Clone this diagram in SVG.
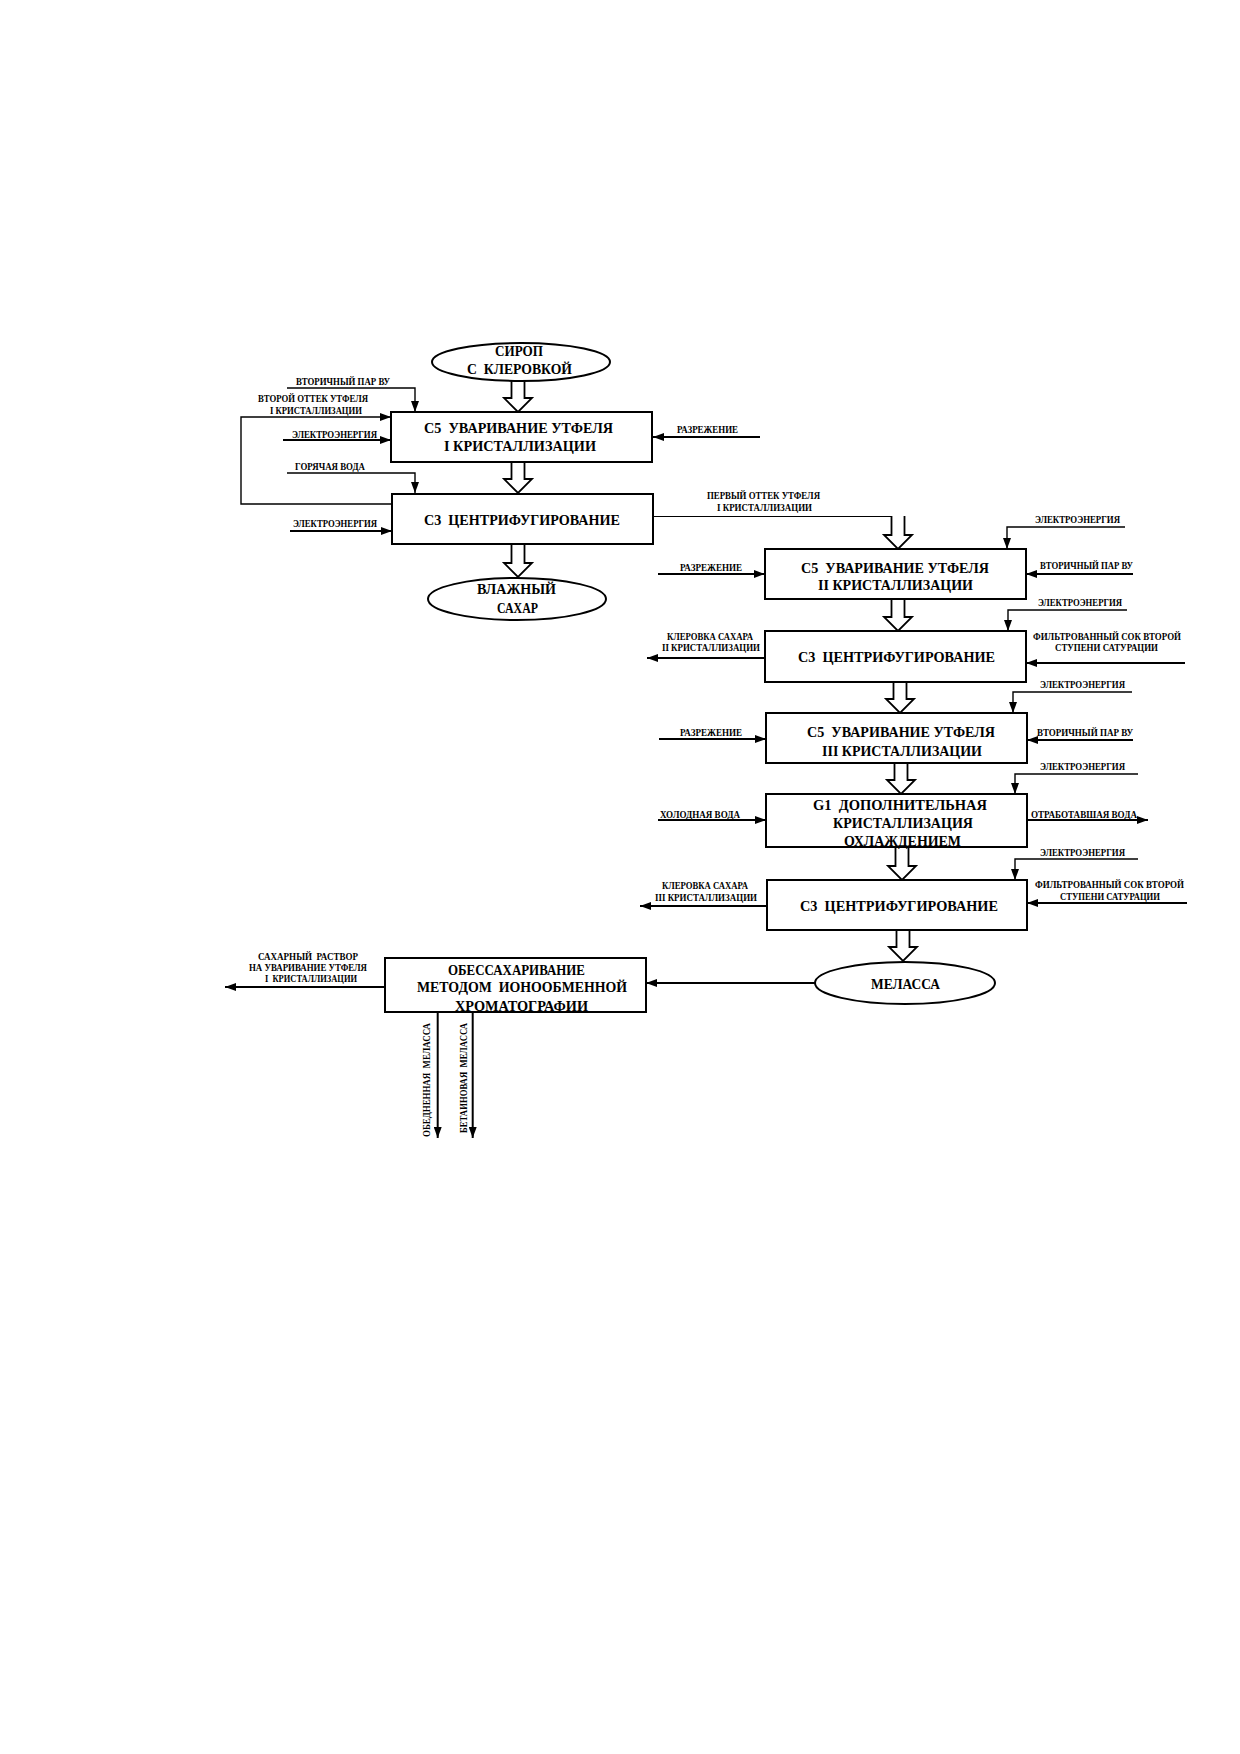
<svg xmlns="http://www.w3.org/2000/svg" width="1240" height="1754" viewBox="0 0 1240 1754">
<defs>
<marker id="ah" markerUnits="userSpaceOnUse" markerWidth="11" markerHeight="8" refX="11" refY="4" orient="auto">
<path d="M0,0 L11,4 L0,8 Z" fill="#000"/>
</marker>
<style>
.box{fill:#fff;stroke:#000;stroke-width:2}
.t{font-family:"Liberation Serif",serif;font-weight:bold;font-size:15px;text-anchor:middle;fill:#000;white-space:pre}
.s{font-family:"Liberation Serif",serif;font-weight:bold;font-size:10px;text-anchor:middle;fill:#000;white-space:pre}
.th{stroke:#000;stroke-width:2;fill:none;marker-end:url(#ah)}
.md{stroke:#000;stroke-width:1.4;fill:none;marker-end:url(#ah)}
.tn{stroke:#000;stroke-width:1.2;fill:none}
.hol{fill:#fff;stroke:#000;stroke-width:1.8;stroke-linejoin:miter}
</style>
</defs>
<rect width="1240" height="1754" fill="#fff"/>

<g id="connectors">
<path class="md" d="M287,388 H415 V412"/>
<path class="md" d="M392,504 H241 V417 H391"/>
<path class="th" d="M283,440 H391"/>
<path class="md" d="M287,473 H415 V493"/>
<path class="th" d="M290,531 H392"/>
<path class="th" d="M760,437 H653"/>
<path class="tn" d="M653,516.5 H892"/>
<path class="md" d="M1125,527 H1007 V549"/>
<path class="th" d="M658,574 H765"/>
<path class="th" d="M1133,574 H1026"/>
<path class="md" d="M1127,610 H1008 V631"/>
<path class="th" d="M765,658 H647"/>
<path class="th" d="M1185,663 H1026"/>
<path class="md" d="M1132,692 H1013 V713"/>
<path class="th" d="M659,739 H766"/>
<path class="th" d="M1133,740 H1027"/>
<path class="md" d="M1138,774 H1015 V794"/>
<path class="th" d="M658,820 H766"/>
<path class="th" d="M1027,820 H1148"/>
<path class="md" d="M1138,859 H1015 V880"/>
<path class="th" d="M768,906 H640"/>
<path class="th" d="M1187,903 H1027"/>
<path class="th" d="M815,983 H646"/>
<path class="th" d="M385,987 H225"/>
<path class="th" d="M437.7,1012 V1138"/>
<path class="th" d="M472.7,1012 V1138"/>
<path class="hol" d="M511.5,381 V398 H504 L518,412 L532,398 H524.5 V381"/>
<path class="hol" d="M511.5,462 V479 H504 L518,493 L532,479 H524.5 V462"/>
<path class="hol" d="M511.5,544 V563 H504 L518,577 L532,563 H524.5 V544"/>
<path class="hol" d="M891.5,516 V535 H884 L898,549 L912,535 H904.5 V516"/>
<path class="hol" d="M891.5,599 V617 H884 L898,631 L912,617 H904.5 V599"/>
<path class="hol" d="M893.5,682 V699 H886 L900,713 L914,699 H906.5 V682"/>
<path class="hol" d="M894.5,763 V780 H887 L901,794 L915,780 H907.5 V763"/>
<path class="hol" d="M895.5,847 V866 H888 L902,880 L916,866 H908.5 V847"/>
<path class="hol" d="M896.5,930 V947 H889 L903,961 L917,947 H909.5 V930"/>
</g>

<g id="labels">
<text class="s" x="343" y="385" textLength="94" lengthAdjust="spacingAndGlyphs">ВТОРИЧНЫЙ ПАР ВУ</text>
<text class="s" x="313" y="401.5" textLength="110" lengthAdjust="spacingAndGlyphs">ВТОРОЙ ОТТЕК УТФЕЛЯ</text>
<text class="s" x="316" y="413.5" textLength="92" lengthAdjust="spacingAndGlyphs">I КРИСТАЛЛИЗАЦИИ</text>
<text class="s" x="334.5" y="437.5" textLength="85" lengthAdjust="spacingAndGlyphs">ЭЛЕКТРОЭНЕРГИЯ</text>
<text class="s" x="330" y="470" textLength="70" lengthAdjust="spacingAndGlyphs">ГОРЯЧАЯ ВОДА</text>
<text class="s" x="335" y="526.5" textLength="84" lengthAdjust="spacingAndGlyphs">ЭЛЕКТРОЭНЕРГИЯ</text>
<text class="s" x="707.5" y="432.5" textLength="61" lengthAdjust="spacingAndGlyphs">РАЗРЕЖЕНИЕ</text>
<text class="s" x="763.5" y="498.5" textLength="113" lengthAdjust="spacingAndGlyphs">ПЕРВЫЙ ОТТЕК УТФЕЛЯ</text>
<text class="s" x="764.5" y="510.5" textLength="95" lengthAdjust="spacingAndGlyphs">I КРИСТАЛЛИЗАЦИИ</text>
<text class="s" x="1077.5" y="522.5" textLength="85" lengthAdjust="spacingAndGlyphs">ЭЛЕКТРОЭНЕРГИЯ</text>
<text class="s" x="711" y="570.5" textLength="62" lengthAdjust="spacingAndGlyphs">РАЗРЕЖЕНИЕ</text>
<text class="s" x="1086.5" y="568.5" textLength="93" lengthAdjust="spacingAndGlyphs">ВТОРИЧНЫЙ ПАР ВУ</text>
<text class="s" x="1080" y="605.5" textLength="84" lengthAdjust="spacingAndGlyphs">ЭЛЕКТРОЭНЕРГИЯ</text>
<text class="s" x="710" y="639.5" textLength="86" lengthAdjust="spacingAndGlyphs">КЛЕРОВКА САХАРА</text>
<text class="s" x="711" y="650.5" textLength="98" lengthAdjust="spacingAndGlyphs">II КРИСТАЛЛИЗАЦИИ</text>
<text class="s" x="1107" y="639.5" textLength="148" lengthAdjust="spacingAndGlyphs">ФИЛЬТРОВАННЫЙ СОК ВТОРОЙ</text>
<text class="s" x="1106.5" y="650.5" textLength="103" lengthAdjust="spacingAndGlyphs">СТУПЕНИ САТУРАЦИИ</text>
<text class="s" x="1082.5" y="687.5" textLength="85" lengthAdjust="spacingAndGlyphs">ЭЛЕКТРОЭНЕРГИЯ</text>
<text class="s" x="711" y="735.5" textLength="62" lengthAdjust="spacingAndGlyphs">РАЗРЕЖЕНИЕ</text>
<text class="s" x="1085" y="735.5" textLength="96" lengthAdjust="spacingAndGlyphs">ВТОРИЧНЫЙ ПАР ВУ</text>
<text class="s" x="1082.5" y="769.5" textLength="85" lengthAdjust="spacingAndGlyphs">ЭЛЕКТРОЭНЕРГИЯ</text>
<text class="s" x="700" y="818" textLength="80" lengthAdjust="spacingAndGlyphs">ХОЛОДНАЯ ВОДА</text>
<text class="s" x="1084" y="817.5" textLength="106" lengthAdjust="spacingAndGlyphs">ОТРАБОТАВШАЯ ВОДА</text>
<text class="s" x="1082.5" y="855.5" textLength="85" lengthAdjust="spacingAndGlyphs">ЭЛЕКТРОЭНЕРГИЯ</text>
<text class="s" x="705" y="888.5" textLength="86" lengthAdjust="spacingAndGlyphs">КЛЕРОВКА САХАРА</text>
<text class="s" x="706" y="900.5" textLength="102" lengthAdjust="spacingAndGlyphs">III КРИСТАЛЛИЗАЦИИ</text>
<text class="s" x="1109.5" y="888" textLength="149" lengthAdjust="spacingAndGlyphs">ФИЛЬТРОВАННЫЙ СОК ВТОРОЙ</text>
<text class="s" x="1110" y="900" textLength="100" lengthAdjust="spacingAndGlyphs">СТУПЕНИ САТУРАЦИИ</text>
<text class="s" x="308" y="959.5" textLength="100" lengthAdjust="spacingAndGlyphs">САХАРНЫЙ  РАСТВОР</text>
<text class="s" x="308" y="970.5" textLength="118" lengthAdjust="spacingAndGlyphs">НА УВАРИВАНИЕ УТФЕЛЯ</text>
<text class="s" x="311" y="981.5" textLength="92" lengthAdjust="spacingAndGlyphs">I  КРИСТАЛЛИЗАЦИИ</text>
<text class="s" style="font-size:11px" transform="translate(430,1080) rotate(-90)" x="0" y="0" textLength="114" lengthAdjust="spacingAndGlyphs">ОБЕДНЕННАЯ  МЕЛАССА</text>
<text class="s" style="font-size:11px" transform="translate(466.5,1078) rotate(-90)" x="0" y="0" textLength="110" lengthAdjust="spacingAndGlyphs">БЕТАИНОВАЯ  МЕЛАССА</text>
</g>

<g id="syrup">
<ellipse class="box" cx="521" cy="362" rx="89" ry="19"/>
<text class="t" x="519" y="356" textLength="48" lengthAdjust="spacingAndGlyphs">СИРОП</text>
<text class="t" x="519.5" y="374" textLength="105" lengthAdjust="spacingAndGlyphs">С  КЛЕРОВКОЙ</text>
</g>

<g id="boil1">
<rect class="box" x="391" y="412" width="261" height="50"/>
<text class="t" x="518.5" y="433" textLength="189" lengthAdjust="spacingAndGlyphs">C5  УВАРИВАНИЕ УТФЕЛЯ</text>
<text class="t" x="520" y="451" textLength="152" lengthAdjust="spacingAndGlyphs">I КРИСТАЛЛИЗАЦИИ</text>
</g>

<g id="centr1">
<rect class="box" x="392" y="494" width="261" height="50"/>
<text class="t" x="522" y="525" textLength="196" lengthAdjust="spacingAndGlyphs">C3  ЦЕНТРИФУГИРОВАНИЕ</text>
</g>

<g id="wetsugar">
<ellipse class="box" cx="517" cy="599" rx="89" ry="21"/>
<text class="t" x="516.5" y="593.5" textLength="79" lengthAdjust="spacingAndGlyphs">ВЛАЖНЫЙ</text>
<text class="t" x="517.5" y="612.5" textLength="41" lengthAdjust="spacingAndGlyphs">САХАР</text>
</g>

<g id="boil2">
<rect class="box" x="765" y="549" width="261" height="50"/>
<text class="t" x="895" y="572.5" textLength="188" lengthAdjust="spacingAndGlyphs">C5  УВАРИВАНИЕ УТФЕЛЯ</text>
<text class="t" x="895.5" y="590" textLength="155" lengthAdjust="spacingAndGlyphs">II КРИСТАЛЛИЗАЦИИ</text>
</g>

<g id="centr2">
<rect class="box" x="765" y="631" width="261" height="51"/>
<text class="t" x="896.5" y="662" textLength="197" lengthAdjust="spacingAndGlyphs">C3  ЦЕНТРИФУГИРОВАНИЕ</text>
</g>

<g id="boil3">
<rect class="box" x="766" y="713" width="261" height="50"/>
<text class="t" x="901" y="737" textLength="188" lengthAdjust="spacingAndGlyphs">C5  УВАРИВАНИЕ УТФЕЛЯ</text>
<text class="t" x="902" y="755.5" textLength="160" lengthAdjust="spacingAndGlyphs">III КРИСТАЛЛИЗАЦИИ</text>
</g>

<g id="cooling">
<rect class="box" x="766" y="794" width="261" height="53"/>
<text class="t" x="900" y="809.5" textLength="174" lengthAdjust="spacingAndGlyphs">G1  ДОПОЛНИТЕЛЬНАЯ</text>
<text class="t" x="903" y="828" textLength="140" lengthAdjust="spacingAndGlyphs">КРИСТАЛЛИЗАЦИЯ</text>
<text class="t" x="902.5" y="845.5" textLength="117" lengthAdjust="spacingAndGlyphs">ОХЛАЖДЕНИЕМ</text>
</g>

<g id="centr3">
<rect class="box" x="767" y="880" width="260" height="50"/>
<text class="t" x="899" y="911" textLength="198" lengthAdjust="spacingAndGlyphs">C3  ЦЕНТРИФУГИРОВАНИЕ</text>
</g>

<g id="molasses">
<ellipse class="box" cx="905" cy="983" rx="90" ry="21"/>
<text class="t" x="905.5" y="989" textLength="69" lengthAdjust="spacingAndGlyphs">МЕЛАССА</text>
</g>

<g id="desugar">
<rect class="box" x="385" y="958" width="261" height="54"/>
<text class="t" x="516.5" y="974.5" textLength="137" lengthAdjust="spacingAndGlyphs">ОБЕССАХАРИВАНИЕ</text>
<text class="t" x="522" y="992" textLength="210" lengthAdjust="spacingAndGlyphs">МЕТОДОМ  ИОНООБМЕННОЙ</text>
<text class="t" x="521.5" y="1010.5" textLength="133" lengthAdjust="spacingAndGlyphs">ХРОМАТОГРАФИИ</text>
</g>
</svg>
